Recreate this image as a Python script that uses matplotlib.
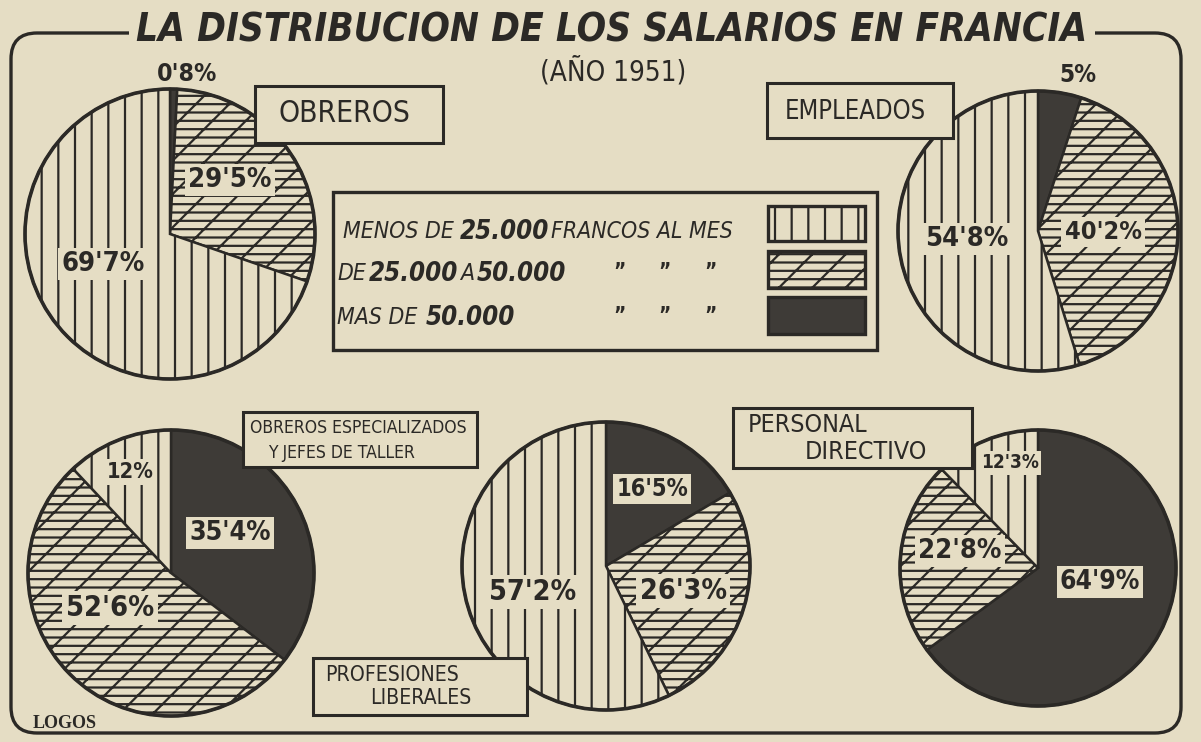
import matplotlib
matplotlib.use('Agg')
import matplotlib.pyplot as plt
from matplotlib.patches import FancyBboxPatch, Rectangle, Circle

# salary distribution in France, 1951 (% of each group)
groups = ['OBREROS', 'EMPLEADOS', 'OBREROS ESPECIALIZADOS\nY JEFES DE TALLER',
          'PROFESIONES\nLIBERALES', 'PERSONAL\nDIRECTIVO']
menos_25000 = [69.7, 54.8, 12.0, 57.2, 12.3]
de_25000_a_50000 = [29.5, 40.2, 52.6, 26.3, 22.8]
mas_50000 = [0.8, 5.0, 35.4, 16.5, 64.9]

title = 'LA DISTRIBUCION DE LOS SALARIOS EN FRANCIA'
subtitle = '(AÑO 1951)'
legend_rows = [[('MENOS DE', 0), ('25.000', 1), ('FRANCOS AL MES', 0)],
               [('DE', 0), ('25.000', 1), ('A', 0), ('50.000', 1)],
               [('MAS DE', 0), ('50.000', 1)]]
ditto = '\u201d'
credit = 'LOGOS'

# layout, in pixels from the top-left corner
W, H = 1201, 742
paper = '#e5ddc4'
ink = '#2b2926'
dark = '#3e3b37'
pies = [(170, 234, 145), (1038, 231, 140), (171, 573, 143), (606, 566, 144), (1038, 568, 138)]
# label spots per pie: [mas, de, menos]
label_xy = [[(187, 74), (230, 180), (103, 264)],
            [(1078, 75), (1103, 232), (967, 239)],
            [(230, 533), (110, 608), (130, 472)],
            [(652, 489), (683, 591), (533, 592)],
            [(1100, 582), (960, 551), (1010, 463)]]
label_w = [[60, 83, 83], [37, 77, 83], [82, 88, 47], [72, 87, 87], [80, 83, 58]]
cat_box = [(255, 86, 443, 143), (767, 83, 953, 138), (243, 412, 477, 467),
           (313, 658, 527, 715), (733, 408, 972, 468)]
# left x and centre y of each text line, and width of the first line
cat_lines = [[(279, 113)], [(785, 112)], [(250, 428), (268, 453)],
             [(325, 675), (370, 698)], [(748, 425), (805, 452)]]
cat_w = [133, 142, 218, 134, 120]
legend_x0 = [343, 337, 337]
legend_y = [232, 274, 318]
legend_gap = [[6, 2, 4], [3, 2, 2], [8]]
ditto_x = [619, 664, 710]
swatch_y = [(206, 241), (251, 288), (297, 334)]
hatches = ['', '/--', '|']
fills = [dark, paper, paper]

plt.rcParams['hatch.linewidth'] = 1.6
LBL = dict(family='DejaVu Sans', stretch='condensed', color=ink)

fig = plt.figure(figsize=(W / 100, H / 100), dpi=100, facecolor=paper)
ax = fig.add_axes([0, 0, 1, 1])
ax.set_facecolor(paper)
ax.set_xlim(0, W)
ax.set_ylim(0, H)
rend = fig.canvas.get_renderer()


def Y(y):
    return H - y


def fit(t, w):
    bb = t.get_window_extent(rend)
    t.set_fontsize(t.get_fontsize() * w / bb.width)
    return t


def fmt(v):
    if v == int(v):
        return '%d%%' % v
    return ('%.1f' % v).replace('.', "'") + '%'


# outer frame
ax.add_patch(FancyBboxPatch((11, Y(733)), 1170, 700, boxstyle='round,pad=0,rounding_size=26',
                            fc='none', ec=ink, lw=2.4, zorder=1))

# the five pies
for i in range(len(groups)):
    cx, cy, r = pies[i]
    vals = [mas_50000[i], de_25000_a_50000[i], menos_25000[i]]
    ax.pie(vals, colors=fills, hatch=hatches, startangle=90, counterclock=False,
           center=(cx, Y(cy)), radius=r, frame=True,
           wedgeprops=dict(edgecolor=ink, linewidth=1.8))
    ax.add_patch(Circle((cx, Y(cy)), r, fc='none', ec=ink, lw=2.6, zorder=3))
    for j, v in enumerate(vals):
        x, y = label_xy[i][j]
        boxed = not (j == 0 and i < 2)
        t = ax.text(x, Y(y), fmt(v), ha='center', va='center', fontsize=20,
                    weight='bold', zorder=5, **LBL)
        if boxed:
            t.set_bbox(dict(boxstyle='square,pad=0.12', fc=paper, ec='none'))
        fit(t, label_w[i][j])

# group name boxes
for i, name in enumerate(groups):
    x0, y0, x1, y1 = cat_box[i]
    ax.add_patch(Rectangle((x0, Y(y1)), x1 - x0, y1 - y0, fc=paper, ec=ink, lw=2.2, zorder=6))
    size = None
    for line, (x, y) in zip(name.split('\n'), cat_lines[i]):
        t = ax.text(x, Y(y), line, ha='left', va='center', fontsize=16, zorder=7, **LBL)
        if size is None:
            size = fit(t, cat_w[i]).get_fontsize()
        t.set_fontsize(size)

# legend box
ax.add_patch(Rectangle((333, Y(350)), 544, 158, fc=paper, ec=ink, lw=2.4, zorder=6))
for k in range(3):
    y0, y1 = swatch_y[k]
    ax.add_patch(Rectangle((768, Y(y1)), 97, y1 - y0, fc=fills[2 - k], ec=ink,
                           lw=2.4, hatch=hatches[2 - k], zorder=7))
    x = legend_x0[k]
    for n, (txt, big) in enumerate(legend_rows[k]):
        t = ax.text(x, Y(legend_y[k]), txt, ha='left', va='center',
                    fontsize=18.5 if big else 16.5, style='italic',
                    weight='bold' if big else 'normal', zorder=7, **LBL)
        bb = t.get_window_extent(rend)
        if n < len(legend_gap[k]):
            x = x + bb.width + legend_gap[k][n]
    if k > 0:
        for dx in ditto_x:
            ax.text(dx, Y(legend_y[k] - 2), ditto, ha='center', va='center', fontsize=15,
                    weight='bold', zorder=7, **LBL)

# title and subtitle
t = ax.text(612, Y(31), title, ha='center', va='center', fontsize=40, style='italic',
            weight='bold', zorder=8, **LBL,
            bbox=dict(boxstyle='square,pad=0.2', fc=paper, ec='none'))
fit(t, 950)
t = ax.text(613, Y(72), subtitle, ha='center', va='center', fontsize=20, zorder=8, **LBL)
fit(t, 146)

t = ax.text(33, Y(723), credit, ha='left', va='center', fontsize=10, weight='bold',
            family='Liberation Serif', color=ink, zorder=8)
fit(t, 64)

ax.set_xlim(0, W)
ax.set_ylim(0, H)
ax.set_aspect('equal')
ax.axis('off')
fig.savefig('out.png', dpi=100, facecolor=paper)
